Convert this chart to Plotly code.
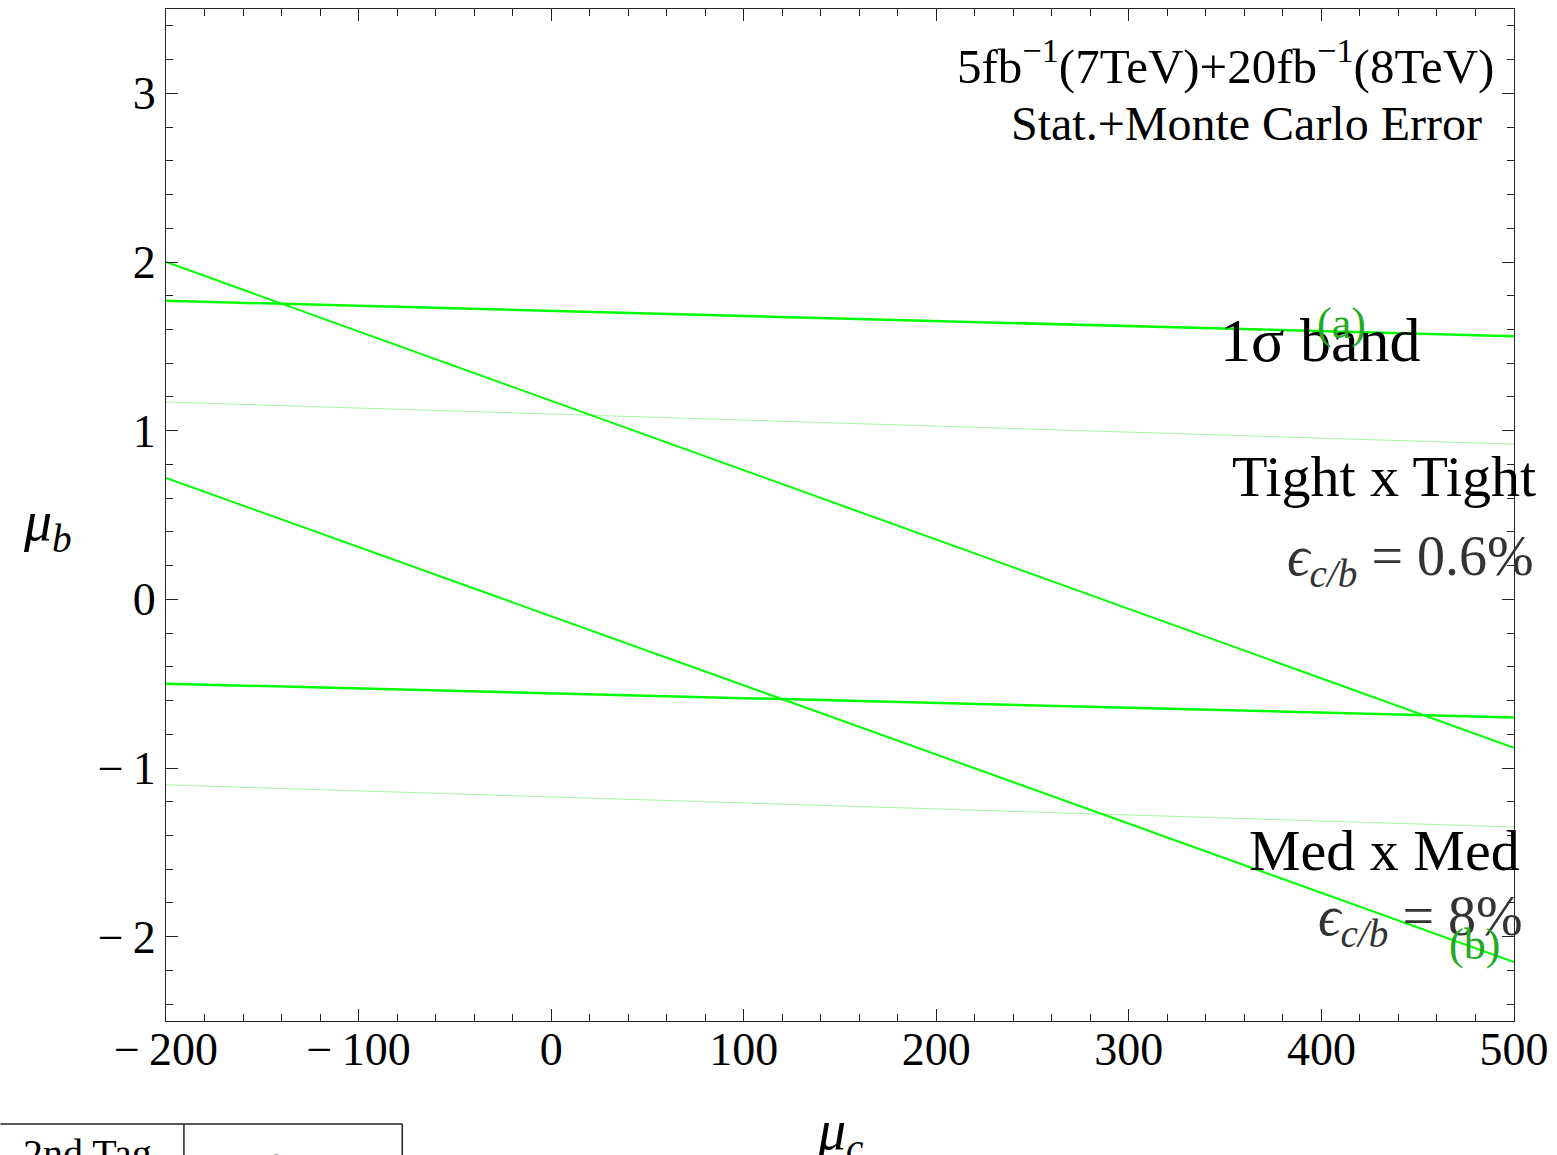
import plotly.graph_objects as go

# ---- data ----
mu_c = [-200, 500]
thick_upper = [1.77, 1.56]
steep_upper = [2.00, -0.88]
thin_upper = [1.17, 0.92]
steep_lower = [0.72, -2.15]
thick_lower = [-0.50, -0.70]
thin_lower = [-1.10, -1.35]

x_ticks = [-200, -100, 0, 100, 200, 300, 400, 500]
x_tick_labels = ["−\u2009200", "−\u2009100", "0", "100", "200", "300", "400", "500"]
y_ticks = [-2, -1, 0, 1, 2, 3]
y_tick_labels = ["−\u20092", "−\u20091", "0", "1", "2", "3"]

BRIGHT = "#00FF00"
LIGHT = "#A8F0A8"
SERIF = "Liberation Serif, Times New Roman, serif"

fig = go.Figure()
for ys, col, w in [
    (thin_upper, LIGHT, 1),
    (thin_lower, LIGHT, 1),
    (thick_upper, BRIGHT, 2.5),
    (steep_upper, BRIGHT, 2),
    (steep_lower, BRIGHT, 2),
    (thick_lower, BRIGHT, 2.5),
]:
    fig.add_trace(go.Scatter(x=mu_c, y=ys, mode="lines",
                             line=dict(color=col, width=w),
                             showlegend=False, hoverinfo="skip"))

axis_common = dict(
    showgrid=False, zeroline=False, showline=True, linecolor="#222",
    linewidth=1, mirror="ticks", ticks="inside", ticklen=12,
    tickcolor="#222", tickwidth=1,
    tickfont=dict(family=SERIF, size=46, color="black"),
)
fig.update_xaxes(range=[-200, 500], tickvals=x_ticks, ticktext=x_tick_labels,
                 ticklabelstandoff=-12,
                 minor=dict(dtick=20, ticks="inside", ticklen=7, tickcolor="#222"),
                 **axis_common)
fig.update_yaxes(range=[-2.5, 3.5], tickvals=y_ticks, ticktext=y_tick_labels,
                 minor=dict(dtick=0.2, ticks="inside", ticklen=7, tickcolor="#222"),
                 **axis_common)

ann = []
def add(text, x, y, size, color="black", xanchor="center", yanchor="middle",
        xref="x", yref="y"):
    ann.append(dict(text=text, x=x, y=y, xref=xref, yref=yref, showarrow=False,
                    xanchor=xanchor, yanchor=yanchor,
                    font=dict(family=SERIF, size=size, color=color)))

add("5fb<sup>−1</sup>(7TeV)+20fb<sup>−1</sup>(8TeV)", 490.7, 3.18, 49, xanchor="right")
add("Stat.+Monte Carlo Error", 484.5, 2.82, 48, xanchor="right")
add("1σ band", 399.3, 1.54, 62)
add("(a)", 410.4, 1.635, 44, color="#22AA22")
add("Tight x Tight", 432.4, 0.727, 58)
add("<i>ϵ</i><sub><i>c/b</i></sub> = 0.6%", 446.2, 0.234, 56, color="#333")
add("Med x Med", 433.0, -1.487, 58)
add("<i>ϵ</i><sub><i>c/b</i></sub> = 8%", 451.3, -1.902, 56, color="#333")
add("(b)", 479.3, -2.044, 44, color="#22AA22")

# axis titles
add("<i>μ</i><sub><i>c</i></sub>", 0.50, -0.075, 56, xref="paper", yref="paper", yanchor="top")
add("<i>μ</i><sub><i>b</i></sub>", -0.088, 0.49, 56, xref="paper", yref="paper")

# table fragment at bottom-left
add("2nd Tag", -0.058, -0.107, 40, xref="paper", yref="paper", yanchor="top")
add("<i>ϵ</i><sub><i>c/b</i></sub>", 0.092, -0.114, 40, xref="paper", yref="paper", yanchor="top")

fig.update_layout(
    width=1557, height=1155,
    margin=dict(l=166, r=35, t=8, b=134),
    plot_bgcolor="white", paper_bgcolor="white",
    annotations=ann,
    shapes=[
        dict(type="line", xref="paper", yref="paper", x0=-0.1228, x1=0.1753,
             y0=-0.1017, y1=-0.1017, line=dict(color="#222", width=1.5)),
        dict(type="line", xref="paper", yref="paper", x0=0.0133, x1=0.0133,
             y0=-0.1017, y1=-0.2, line=dict(color="#222", width=1.5)),
        dict(type="line", xref="paper", yref="paper", x0=0.1753, x1=0.1753,
             y0=-0.1017, y1=-0.2, line=dict(color="#222", width=1.5)),
    ],
)

fig.write_html("out.html", config={"displayModeBar": False},
               post_script="document.body.style.margin='0';document.body.style.overflow='hidden';")
